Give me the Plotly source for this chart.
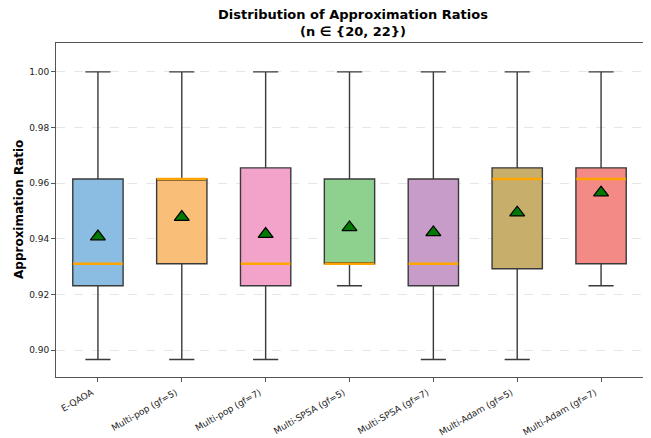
import plotly.graph_objects as go

categories = ["E-QAOA", "Multi-pop (gf=5)", "Multi-pop (gf=7)", "Multi-SPSA (gf=5)",
              "Multi-SPSA (gf=7)", "Multi-Adam (gf=5)", "Multi-Adam (gf=7)"]
lower = [0.8966, 0.8966, 0.8966, 0.9231, 0.8966, 0.8966, 0.9231]
q1 = [0.9231, 0.9310, 0.9231, 0.9310, 0.9231, 0.9292, 0.9310]
median = [0.9310, 0.9615, 0.9310, 0.9310, 0.9310, 0.9615, 0.9615]
q3 = [0.9615, 0.9615, 0.9655, 0.9615, 0.9615, 0.9655, 0.9655]
upper = [1.0, 1.0, 1.0, 1.0, 1.0, 1.0, 1.0]
mean = [0.9408, 0.9478, 0.9417, 0.9441, 0.9423, 0.9494, 0.9566]
colors = ["#8BBDE2", "#F9BF79", "#F3A3C9", "#8ED18F", "#C89CC8", "#C8AE6B", "#F48A85"]
yticks = [0.90, 0.92, 0.94, 0.96, 0.98, 1.00]

fig = go.Figure()
for i, c in enumerate(categories):
    fig.add_trace(go.Box(
        x=[c], q1=[q1[i]], median=[median[i]], q3=[q3[i]],
        lowerfence=[lower[i]], upperfence=[upper[i]],
        fillcolor=colors[i], line=dict(color="#3a3a3a", width=1.4),
        width=0.6, whiskerwidth=0.5, boxpoints=False, showlegend=False,
        hoverinfo="skip",
    ))

fig.add_trace(go.Scatter(
    x=categories, y=median, mode="markers", showlegend=False,
    marker=dict(symbol="line-ew", size=35.5, color="orange",
                line=dict(color="#FFA500", width=2.5)),
))
fig.add_trace(go.Scatter(
    x=categories, y=mean, mode="markers", showlegend=False,
    marker=dict(symbol="triangle-up", size=13, color="#007A00",
                line=dict(color="black", width=1.2)),
))

fig.update_layout(
    width=643, height=430,
    margin=dict(l=48, r=8, t=35, b=61),
    paper_bgcolor="white", plot_bgcolor="white",
    font=dict(family="DejaVu Sans", size=10, color="#222"),
    title=dict(text="<b>Distribution of Approximation Ratios<br>(n ∈ {20, 22})</b>",
               x=0.5365, xanchor="center", yref="container", y=0.9745, yanchor="top",
               font=dict(family="DejaVu Sans", size=13, color="black")),
    boxmode="overlay",
    annotations=[dict(text="<b>Approximation Ratio</b>", textangle=-90,
                      xref="paper", yref="paper", x=0, y=0.5,
                      xanchor="center", yanchor="middle", xshift=-37,
                      showarrow=False, font=dict(size=12, color="black"))],
)
fig.update_xaxes(
    type="category", range=[-0.5, 6.5], tickangle=-30, automargin=False,
    showline=True, linecolor="#555", linewidth=1, mirror=True,
    ticks="outside", ticklen=4, tickcolor="#555", showgrid=False,
    tickfont=dict(size=9), ticklabelshift=-6, ticklabelstandoff=2,
)
fig.update_yaxes(
    range=[0.8903, 1.0104], tickvals=yticks, tickformat=".2f", automargin=False,
    showline=True, linecolor="#555", linewidth=1, mirror=True,
    ticks="outside", ticklen=4, tickcolor="#555",
    showgrid=True, gridcolor="#e6e6e6", griddash="dash", gridwidth=1,
    zeroline=False, tickfont=dict(size=9),
)

fig.write_html("out.html")
